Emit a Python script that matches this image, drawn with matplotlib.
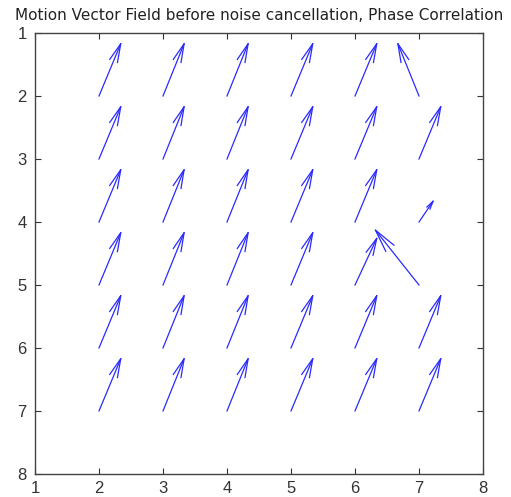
import numpy as np
import matplotlib
matplotlib.use("Agg")
import matplotlib.pyplot as plt

# grid positions
x_pos = [2, 3, 4, 5, 6, 7]
y_pos = [2, 3, 4, 5, 6, 7]

# motion vectors (u: horizontal, v: vertical in data units, y axis reversed)
U = [
    [0.34, 0.33, 0.33, 0.34, 0.34, -0.33],
    [0.34, 0.33, 0.33, 0.34, 0.34, 0.34],
    [0.34, 0.33, 0.33, 0.34, 0.34, 0.22],
    [0.34, 0.33, 0.33, 0.34, 0.34, -0.68],
    [0.34, 0.33, 0.33, 0.34, 0.34, 0.34],
    [0.34, 0.33, 0.33, 0.34, 0.34, 0.34],
]
V = [
    [-0.83, -0.83, -0.83, -0.83, -0.83, -0.83],
    [-0.83, -0.83, -0.83, -0.83, -0.83, -0.83],
    [-0.83, -0.83, -0.83, -0.83, -0.83, -0.33],
    [-0.83, -0.83, -0.83, -0.83, -0.74, -0.87],
    [-0.83, -0.83, -0.83, -0.83, -0.83, -0.83],
    [-0.83, -0.83, -0.83, -0.83, -0.83, -0.83],
]

title = "Motion Vector Field before noise cancellation, Phase Correlation"
ticks = [1, 2, 3, 4, 5, 6, 7, 8]

plt.rcParams['font.family'] = ['Liberation Sans', 'DejaVu Sans']

fig = plt.figure(figsize=(5.11, 4.97), dpi=100)
ax = fig.add_axes([35/511, 1-474/497, (483-35)/511, (474-33)/497])

X, Y = np.meshgrid(x_pos, y_pos)
Ua = np.array(U)
Va = np.array(V)
alpha, beta = 0.33, 0.22
col = '#2a2aff'
for x, y, u, v in zip(X.ravel(), Y.ravel(), Ua.ravel(), Va.ravel()):
    ax.plot([x, x + u], [y, y + v], color=col, lw=0.9)
    hu = [x + u - alpha * (u + beta * v), x + u, x + u - alpha * (u - beta * v)]
    hv = [y + v - alpha * (v - beta * u), y + v, y + v - alpha * (v + beta * u)]
    ax.plot(hu, hv, color=col, lw=0.9)

ax.set_xlim(1, 8)
ax.set_ylim(8, 1)
ax.set_xticks(ticks)
ax.set_yticks(ticks)
ax.tick_params(direction='in', top=True, right=True, length=4, width=0.8,
               labelsize=12, colors='#333333')
ax.tick_params(axis='x', pad=5)
ax.tick_params(axis='y', pad=6)
for s in ax.spines.values():
    s.set_color('#444444')
    s.set_linewidth(1.0)
ax.set_title(title, fontsize=11, color='#222222', pad=9, family=['DejaVu Sans'])

fig.savefig('out.png', dpi=100)
